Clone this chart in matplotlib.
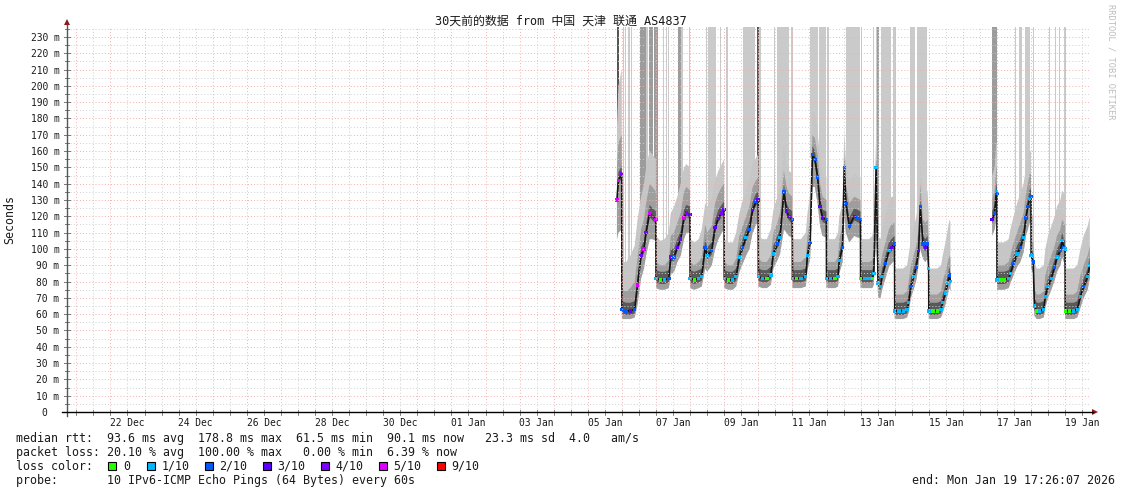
import datetime as dt

import matplotlib
matplotlib.use("Agg")
import matplotlib.dates as mdates
import matplotlib.pyplot as plt
import numpy as np
from matplotlib.lines import Line2D
from matplotlib.patches import Polygon, Rectangle

W, H = 1121, 494

# ---- data ---------------------------------------------------------------
# time axis: hours after 2026-01-05 00:00, one line per day (Jan 5 .. Jan 19)
hours = [
    20.5, 21.5, 23.9,
    24, 27, 30, 33, 35, 37.5, 39.5, 41, 43.5, 45.5, 47.9,
    48, 51, 54, 57, 58.4, 60.7, 63, 65.4, 67.7, 69.3, 71.9,
    72, 75, 78, 80.2, 82.6, 84, 87.2, 89.6, 91.9, 94.2, 95.9,
    96, 99, 102, 104.4, 106.7, 109, 111.4, 113.7, 116, 118.4, 119.9,
    120, 123, 126, 128.8, 130.6, 133.4, 135.3, 138, 139.9, 141.5, 143.9,
    144, 147, 150, 153.4, 154.6, 156.5, 158.1, 159.8, 161.7, 163.5, 165.2, 167.9,
    168, 171, 174, 176.1, 177, 179.3, 180.5, 181.6, 184, 187.5, 189.8, 191.9,
    192, 195, 198, 200.2, 201.3, 202.9, 204.3, 206, 207.1, 209.5, 211.9, 213.7, 215.9,
    216, 219, 222, 224.7, 225.8, 227.4, 229.3, 231.2, 232.8, 234, 235.9, 237.5, 239.1, 239.9,
    240, 243, 246, 248.6, 249.8, 251.7, 253.3, 254.5, 255.2,
    284.6, 286.3, 287.5, 287.9,
    288, 290.4, 293, 296.2, 297.4, 299.7, 302.1, 304.4, 306.7, 308.4, 309.7, 310.9, 311.9,
    312, 313.5, 314.3, 316, 318, 320.9, 322, 323.9, 326.2, 328.6, 330.2, 332.6, 333.8, 335, 335.9,
    336, 339, 342, 344.5, 346.7, 349, 351.8, 353.3,
]
median_ms = [
    130, 142, 146,
    63, 62, 62, 63, 78, 96, 100, 110, 122, 120, 118,
    82, 81, 81, 82, 95, 95, 101, 106, 119, 122, 121,
    82, 81, 82, 83, 101, 96, 99, 113, 119, 122, 124,
    82, 81, 81, 83, 95, 101, 107, 112, 124, 129, 130,
    83, 82, 82, 84, 97, 103, 107, 135, 123, 120, 118,
    82, 82, 82, 83, 96, 104, 158, 155, 144, 126, 119, 118,
    82, 82, 82, 83, 93, 101, 150, 128, 114, 120, 119, 118,
    82, 82, 82, 82, 85, 150, 79, 77, 83, 91, 99, 101, 103,
    62, 62, 62, 63, 67, 77, 83, 89, 99, 126, 103, 101, 103, 88,
    62, 62, 62, 63, 67, 73, 79, 84, 80,
    118, 122, 135, 134,
    81, 81, 81, 82, 85, 91, 97, 101, 107, 119, 126, 131, 132,
    96, 92, 65, 62, 62, 63, 71, 77, 82, 89, 95, 99, 105, 101, 100,
    62, 62, 62, 63, 71, 77, 83, 90,
]
# lowest ping, upper edge of the mid-grey smoke, upper edge of the light smoke
smoke_lo = [
    106, 110, 112,
    57, 57, 57, 58, 66, 82, 88, 96, 106, 106, 105,
    76, 75, 75, 76, 84, 86, 92, 96, 106, 110, 110,
    76, 75, 76, 77, 88, 86, 90, 100, 106, 110, 112,
    76, 75, 75, 77, 86, 91, 96, 100, 110, 115, 116,
    77, 76, 76, 78, 88, 93, 97, 112, 110, 108, 107,
    76, 76, 76, 77, 87, 94, 138, 138, 128, 114, 108, 107,
    76, 76, 76, 77, 85, 92, 120, 110, 104, 108, 107, 107,
    76, 76, 76, 76, 78, 110, 70, 70, 75, 82, 89, 91, 93,
    57, 57, 57, 58, 61, 70, 75, 81, 90, 100, 94, 92, 94, 82,
    57, 57, 57, 58, 61, 66, 72, 76, 74,
    108, 112, 118, 118,
    75, 75, 75, 76, 79, 84, 89, 92, 98, 108, 112, 116, 116,
    88, 85, 59, 57, 57, 58, 64, 70, 75, 81, 86, 90, 95, 92, 91,
    57, 57, 57, 58, 64, 70, 75, 82,
]
smoke_mid = [
    150, 165, 170,
    75, 74, 76, 80, 95, 112, 118, 128, 140, 138, 135,
    92, 90, 90, 93, 108, 110, 116, 122, 135, 138, 136,
    92, 90, 92, 95, 115, 110, 114, 128, 134, 138, 140,
    92, 90, 90, 94, 108, 114, 120, 126, 138, 142, 144,
    94, 92, 92, 96, 110, 116, 122, 148, 138, 134, 132,
    92, 92, 92, 95, 108, 118, 170, 168, 158, 140, 132, 130,
    92, 92, 92, 95, 106, 114, 160, 140, 128, 132, 131, 130,
    92, 92, 92, 93, 98, 158, 92, 90, 96, 104, 112, 115, 116,
    72, 72, 72, 74, 80, 90, 96, 102, 112, 140, 118, 116, 118, 104,
    72, 72, 72, 74, 80, 86, 92, 96, 94,
    130, 136, 150, 150,
    90, 90, 90, 92, 96, 104, 110, 116, 122, 134, 140, 146, 146,
    106, 104, 76, 72, 72, 74, 84, 90, 96, 102, 108, 112, 118, 116, 114,
    72, 72, 72, 74, 84, 90, 96, 102,
]
smoke_hi = [
    175, 200, 210,
    92, 92, 96, 102, 118, 132, 140, 150, 160, 158, 155,
    108, 105, 106, 110, 122, 126, 132, 140, 150, 152, 150,
    106, 104, 106, 112, 128, 126, 130, 142, 148, 152, 155,
    106, 104, 104, 110, 122, 130, 136, 142, 152, 156, 158,
    108, 106, 106, 112, 124, 132, 138, 165, 152, 148, 146,
    106, 106, 106, 110, 122, 134, 185, 182, 172, 155, 146, 144,
    106, 106, 106, 110, 120, 128, 172, 155, 142, 146, 145, 144,
    106, 106, 106, 108, 114, 170, 108, 106, 112, 120, 128, 132, 132,
    88, 88, 88, 90, 96, 106, 112, 120, 130, 150, 136, 134, 136, 122,
    88, 88, 88, 90, 96, 104, 112, 118, 116,
    145, 150, 165, 165,
    104, 104, 104, 106, 112, 120, 128, 134, 140, 150, 156, 160, 160,
    122, 120, 92, 88, 88, 90, 100, 108, 114, 120, 126, 130, 136, 134, 132,
    88, 88, 88, 90, 100, 108, 114, 120,
]
# index into loss_labels for the median colour
loss_idx = [
    5, 5, 4,
    2, 2, 3, 2, 5, 4, 5, 4, 5, 4, 5,
    1, 0, 1, 2, 4, 2, 3, 4, 5, 4, 3,
    1, 0, 1, 1, 2, 1, 2, 3, 3, 4, 3,
    1, 0, 1, 1, 1, 2, 1, 2, 3, 2, 3,
    1, 1, 0, 1, 1, 2, 1, 2, 3, 3, 2,
    1, 0, 1, 1, 1, 2, 2, 2, 2, 3, 3, 2,
    1, 1, 0, 1, 1, 2, 2, 2, 2, 3, 2, 2,
    0, 1, 1, 0, 1, 1, 1, 1, 1, 2, 1, 3, 2,
    1, 1, 1, 1, 1, 2, 1, 2, 3, 2, 2, 3, 2, 1,
    1, 0, 0, 1, 1, 1, 1, 2, 1,
    3, 2, 1, 2,
    1, 0, 0, 1, 1, 2, 1, 2, 1, 2, 2, 1, 2,
    1, 2, 1, 0, 1, 1, 1, 1, 1, 2, 1, 2, 1, 2, 1,
    0, 0, 1, 1, 1, 2, 1, 1,
]

# columns where the slowest pings run off the top of the graph
spike_h = [21.4, 25.05, 26.6, 28.8, 31.0, 39.1, 41.9, 44.3, 47.9, 53.4, 55.5, 56.7,
           64.7, 66.2, 71.6, 83.8, 87.7, 93.7, 98.0, 113.0, 117.3, 119.9, 121.1,
           131.5, 137.3, 143.9, 159.3, 165.1, 168.8, 186.9, 192.8, 201.2, 203.1,
           204.4, 209.9, 215.8, 228.6, 235.3, 286.4, 301.3, 304.5, 309.4, 313.7,
           325.0, 329.4, 332.1, 335.9]
spike_w = [1.6, 0.7, 0.7, 1.4, 0.7, 4.2, 1.4, 2.8, 3.1, 0.9, 0.5, 0.9,
           1.9, 1.1, 1.2, 0.7, 5.6, 0.7, 1.4, 7.3, 0.7, 1.2, 0.9,
           0.9, 8.2, 1.2, 5.4, 4.7, 1.6, 9.9, 0.9, 0.9, 1.0,
           1.2, 7.0, 1.9, 3.0, 7.0, 3.3, 0.7, 1.9, 3.3, 0.7,
           0.7, 0.7, 0.9, 0.9]
spike_shade = ["d", "l", "l", "l", "l", "m", "l", "m", "m", "l", "l", "l",
               "m", "l", "l", "l", "l", "l", "l", "l", "l", "d", "l",
               "l", "l", "l", "l", "l", "l", "l", "l", "l", "l",
               "m", "l", "l", "l", "l", "m", "l", "l", "l", "l",
               "l", "l", "l", "l"]

loss_labels = ["0", "1/10", "2/10", "3/10", "4/10", "5/10", "9/10"]
loss_colors = ["#26ff00", "#00b8ff", "#0059ff", "#5e00ff", "#7e00ff", "#dd00ff", "#ff0000"]

title = "30天前的数据 from 中国 天津 联通 AS4837"
stat_rtt = "median rtt:  93.6 ms avg  178.8 ms max  61.5 ms min  90.1 ms now   23.3 ms sd  4.0   am/s"
stat_loss = "packet loss: 20.10 % avg  100.00 % max   0.00 % min  6.39 % now"
probe_text = "probe:       10 IPv6-ICMP Echo Pings (64 Bytes) every 60s"
end_text = "end: Mon Jan 19 17:26:07 2026"

end_time = dt.datetime(2026, 1, 19, 17, 26, 7)
y_max = 236.1

# ---- drawing --------------------------------------------------------------
MONO = "DejaVu Sans Mono"
plt.rcParams["font.family"] = [MONO, "Noto Sans CJK SC"]

series = [np.asarray(a, dtype=float)
          for a in (hours, median_ms, smoke_lo, smoke_mid, smoke_hi, loss_idx)]
assert len({len(a) for a in series}) == 1
hrs, med, lo, mid, hi, loss = series

# break the traces where the probe was down (Jan 15 - Jan 16)
gap = np.where(np.diff(hrs) > 6)[0] + 1
hrs_g, med_g, lo_g, mid_g, hi_g = (np.insert(a, gap, np.nan) for a in (hrs, med, lo, mid, hi))
hrs_g[gap + np.arange(len(gap))] = hrs[gap] - 0.01

base = mdates.date2num(dt.datetime(2026, 1, 5))
t = base + hrs_g / 24.0

fig = plt.figure(figsize=(W / 100, H / 100), dpi=100)
ax = fig.add_axes([67 / W, (H - 412) / H, (1090 - 67) / W, (412 - 27) / H])
start_time = end_time - dt.timedelta(days=30)
ax.set_xlim(mdates.date2num(start_time), mdates.date2num(end_time))
ax.set_ylim(0, y_max)

# tall columns
shade = {"l": "#cacaca", "m": "#9c9c9c", "d": "#565656"}
sp_h = np.asarray(spike_h)
sp_bottom = np.interp(sp_h, hrs, med)
ax.bar(base + sp_h / 24.0, y_max - sp_bottom, bottom=sp_bottom,
       width=np.asarray(spike_w) / 24.0, color=[shade[s] for s in spike_shade],
       linewidth=0, zorder=1)

# smoke
ax.fill_between(t, lo_g, hi_g, color="#c6c6c6", linewidth=0, zorder=2)
ax.fill_between(t, lo_g, mid_g, color="#9e9e9e", linewidth=0, zorder=3)
ax.fill_between(t, med_g - 2.5, med_g + 5, color="#595959", linewidth=0, zorder=4)
ax.plot(t, med_g, color="#141414", linewidth=1.2, zorder=5)
ax.scatter(base + hrs / 24.0, med, s=6, marker="s", linewidths=0,
           c=[loss_colors[int(i)] for i in loss], zorder=6)

# grid, drawn over the data like rrdtool does
dots = (0, (1, 2.2))
for v in np.arange(5, y_max, 10):
    ax.axhline(v, color="#cfcfcf", linewidth=0.7, linestyle=dots, zorder=7)
for v in np.arange(10, y_max, 10):
    ax.axhline(v, color="#f4b0b0", linewidth=0.7, linestyle=dots, zorder=8)
day0 = dt.datetime(2025, 12, 21)
for k in range(31):
    ax.axvline(mdates.date2num(day0 + dt.timedelta(days=k, hours=12)),
               color="#cfcfcf", linewidth=0.7, linestyle=dots, zorder=7)
    ax.axvline(mdates.date2num(day0 + dt.timedelta(days=k)),
               color="#f4b0b0", linewidth=0.7, linestyle=dots, zorder=8)

for s in ax.spines.values():
    s.set_visible(False)

# x labels: every second day, centred on noon
label_days = [dt.datetime(2025, 12, 22, 12) + dt.timedelta(days=2 * k) for k in range(15)]
ax.set_xticks([mdates.date2num(d) for d in label_days])
ax.xaxis.set_major_formatter(mdates.DateFormatter("%d %b"))
ax.set_yticks(np.arange(0, 231, 10))
ax.set_yticklabels(["0  "] + [f"{v} m" for v in range(10, 231, 10)])
ax.tick_params(axis="x", length=0, pad=4.5, labelsize=6.9, labelcolor="#1a1a1a")
ax.tick_params(axis="y", length=0, pad=5.5, labelsize=6.9, labelcolor="#1a1a1a")


def fxy(px, py):
    return px / W, 1 - py / H


def ftext(px, py, s, **kw):
    x, y = fxy(px, py)
    kw.setdefault("fontsize", 8.4)
    kw.setdefault("va", "center")
    kw.setdefault("color", "#1a1a1a")
    fig.text(x, y, s, **kw)


def fline(xs, ys, **kw):
    p = [fxy(x, y) for x, y in zip(xs, ys)]
    fig.add_artist(Line2D([a for a, _ in p], [b for _, b in p],
                          transform=fig.transFigure, **kw))


# axes, ticks and arrows
for v in np.arange(0, 236, 5):
    py = 412 - v * 385 / y_max
    fline([64, 70] if v % 10 == 0 else [65, 69], [py, py], color="#777777", linewidth=0.7)
for k in range(61):
    px = 67 + (k * 12 + 6.566) / 24 * 1023 / 30
    if px < 1090:
        fline([px, px], [410, 415], color="#888888", linewidth=0.7)
fline([67, 67], [416, 25], color="#555555", linewidth=1.0)
fline([62, 1093], [412, 412], color="#000000", linewidth=1.0)
fig.add_artist(Polygon([fxy(64, 25), fxy(70, 25), fxy(67, 19)], closed=True,
                       transform=fig.transFigure, color="#8b1a1a", linewidth=0))
fig.add_artist(Polygon([fxy(1092, 409), fxy(1092, 415), fxy(1098, 412)], closed=True,
                       transform=fig.transFigure, color="#8b1a1a", linewidth=0))

# titles and labels
ftext(561, 21, title, ha="center", fontsize=8.6)
ftext(10, 219, "Seconds", ha="center", rotation=90)
ftext(1111, 4, "RRDTOOL / TOBI OETIKER", ha="center", va="top", rotation=270,
      fontsize=6.3, color="#bdbdbd")

# legend block
ftext(16, 438, stat_rtt)
ftext(16, 452, stat_loss)
ftext(16, 466, "loss color:")
bx = 108
for lab, col in zip(loss_labels, loss_colors):
    x0, y0 = fxy(bx, 470)
    fig.add_artist(Rectangle((x0, y0), 8 / W, 8 / H, transform=fig.transFigure,
                             facecolor=col, edgecolor="#000000", linewidth=0.8))
    ftext(bx + 15, 466, lab)
    bx += 15 + 6.5 * len(lab) + 17
ftext(16, 480, probe_text)
ftext(1115, 480, end_text, ha="right")

fig.savefig("out.png", dpi=100)
